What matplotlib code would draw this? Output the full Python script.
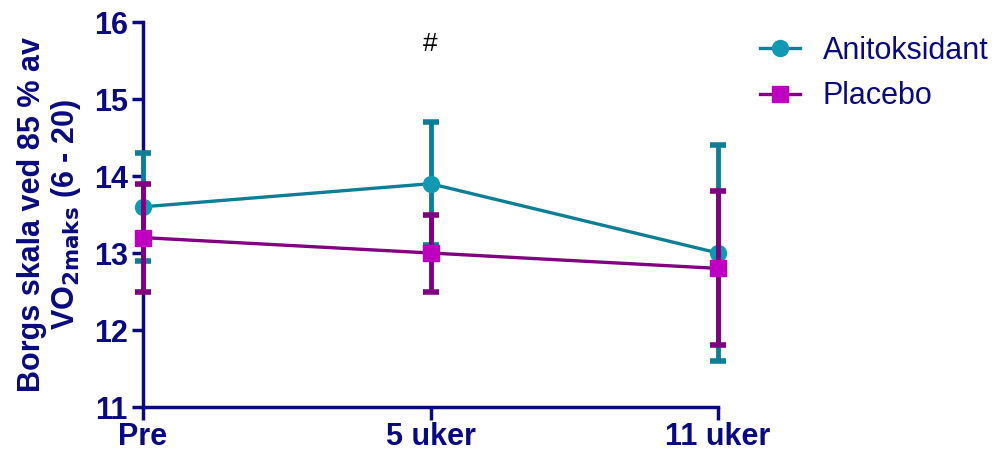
import matplotlib
matplotlib.use("Agg")
import matplotlib.pyplot as plt
from matplotlib.lines import Line2D

plt.rcParams['font.family'] = ['Liberation Sans', 'DejaVu Sans']

categories = ["Pre", "5 uker", "11 uker"]
anti_mean = [13.6, 13.9, 13.0]
anti_err = [0.7, 0.8, 1.4]
placebo_mean = [13.2, 13.0, 12.8]
placebo_err = [0.7, 0.5, 1.0]
yticks = [11, 12, 13, 14, 15, 16]

navy = "#0A0A80"
teal_line = "#0E7E96"
teal_mark = "#1199B4"
purple_line = "#800080"
purple_mark = "#C000C0"

fig = plt.figure(figsize=(10.04, 4.55), dpi=100)
ax = fig.add_axes([143 / 1004, 1 - 407 / 455, (718 - 143) / 1004, (407 - 22) / 455])

x = list(range(len(categories)))

ax.errorbar(x, anti_mean, yerr=anti_err, color=teal_line, lw=2.4,
            marker="o", ms=11.5, mfc=teal_mark, mec=teal_mark,
            ecolor=teal_line, elinewidth=3.5, capsize=6, capthick=4,
            zorder=3, clip_on=False)
ax.errorbar(x, placebo_mean, yerr=placebo_err, color=purple_line, lw=2.4,
            marker="s", ms=11.5, mfc=purple_mark, mec=purple_mark,
            ecolor=purple_line, elinewidth=3.5, capsize=6, capthick=4,
            zorder=4, clip_on=False)

ax.text(1, 15.72, "#", ha="center", va="center", fontsize=19, color="black")

ax.set_xlim(0, 2)
ax.set_ylim(11, 16)
ax.set_yticks(yticks)
ax.set_xticks(x)
ax.set_xticklabels(categories)

for side in ("top", "right"):
    ax.spines[side].set_visible(False)
for side in ("left", "bottom"):
    ax.spines[side].set_color(navy)
    ax.spines[side].set_linewidth(2.5)

ax.tick_params(axis="y", colors=navy, width=2.5, length=8, labelsize=22, pad=3)
ax.tick_params(axis="x", colors=navy, width=2.5, length=9, labelsize=22, pad=2)
for lab in ax.get_xticklabels() + ax.get_yticklabels():
    lab.set_fontweight("bold")
    lab.set_color(navy)

ax.set_ylabel("Borgs skala ved 85 % av\nVO$_{\\mathbf{2maks}}$ (6 - 20)", fontsize=22,
              fontweight="bold", color=navy, labelpad=8, linespacing=1.05)

handles = [
    Line2D([], [], color=teal_line, lw=2.4, marker="o", ms=11.5,
           mfc=teal_mark, mec=teal_mark),
    Line2D([], [], color=purple_line, lw=2.4, marker="s", ms=11.5,
           mfc=purple_mark, mec=purple_mark),
]
leg = ax.legend(handles, ["Anitoksidant", "Placebo"], loc="upper left",
                bbox_to_anchor=(1.052, 0.995), frameon=False,
                fontsize=22, handlelength=1.3, labelcolor=navy,
                borderaxespad=0, handletextpad=0.75, labelspacing=0.5)

fig.savefig("out.png", dpi=100)
